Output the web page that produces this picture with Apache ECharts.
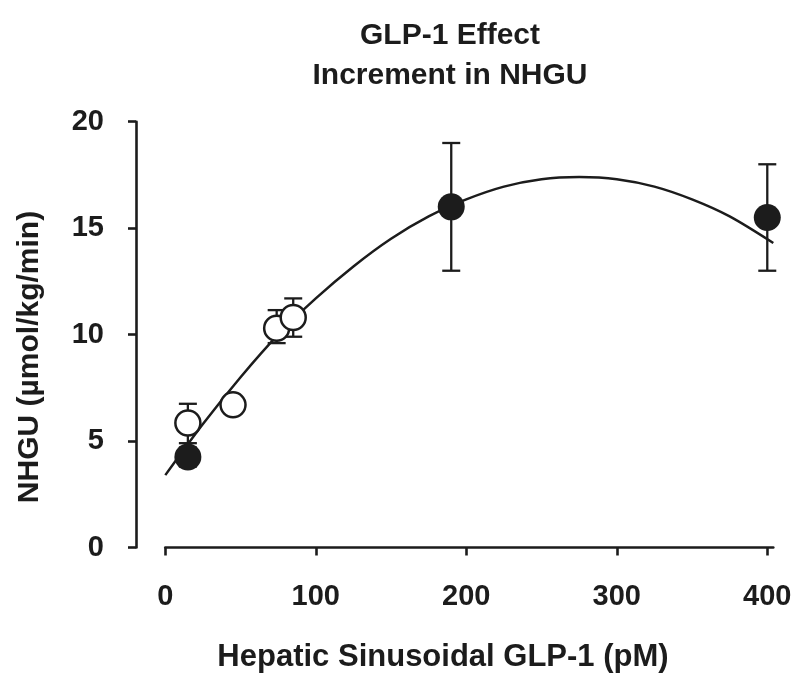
<!DOCTYPE html>
<html>
<head>
<meta charset="utf-8">
<script src="https://cdn.jsdelivr.net/npm/echarts@6/dist/echarts.min.js"></script>
<style>
  html, body { margin: 0; padding: 0; background: #fff; }
  #chart { width: 800px; height: 687px; }
</style>
</head>
<body>
<div id="chart"></div>
<script>
// ---- data ----
const titleLines = ['GLP-1 Effect', 'Increment in NHGU'];
const xAxisName = 'Hepatic Sinusoidal GLP-1 (pM)';
const yAxisName = 'NHGU (µmol/kg/min)';
const xTicks = [0, 100, 200, 300, 400];
const yTicks = [0, 5, 10, 15, 20];

// open circles
const openX = [15, 45, 74, 85];
const openY = [5.85, 6.7, 10.3, 10.8];
const openLow = [4.9, 6.3, 9.6, 9.9];
const openHigh = [6.75, 7.1, 11.15, 11.7];

// filled circles
const filledX = [15, 190, 400];
const filledY = [4.25, 16.0, 15.5];
const filledLow = [3.8, 13.0, 13.0];
const filledHigh = [4.7, 19.0, 18.0];

// fitted curve
const fitX = [0, 25, 50, 75, 100, 125, 150, 175, 200, 225, 250, 275, 300, 325, 350, 375, 404];
const fitY = [3.4, 5.8, 8.0, 10.0, 11.7, 13.2, 14.5, 15.55, 16.35, 16.95, 17.3, 17.4, 17.3, 16.95, 16.35, 15.55, 14.3];

// ---- build chart ----
const FONT = "'Liberation Sans', Arial, Helvetica, sans-serif";
const INK = '#1c1c1c';

const zip = (a, b) => a.map((v, i) => [v, b[i]]);
const errData = openX.map((x, i) => [x, openLow[i], openHigh[i]])
  .concat(filledX.map((x, i) => [x, filledLow[i], filledHigh[i]]));

const chart = echarts.init(document.getElementById('chart'), null, { renderer: 'canvas' });

chart.setOption({
  backgroundColor: '#fff',
  animation: false,
  grid: { left: 165.3, right: 26.7, top: 121.7, bottom: 139.5, containLabel: false },
  graphic: [
    { type: 'text', x: 450, y: 36, style: { text: titleLines[0], font: 'bold 30px ' + FONT, fill: INK, align: 'center', verticalAlign: 'middle' } },
    { type: 'text', x: 450, y: 76, style: { text: titleLines[1], font: 'bold 30px ' + FONT, fill: INK, align: 'center', verticalAlign: 'middle' } },
    { type: 'text', x: 443, y: 657, style: { text: xAxisName, font: 'bold 31px ' + FONT, fill: INK, align: 'center', verticalAlign: 'middle' } },
    { type: 'text', x: 30, y: 357, rotation: Math.PI / 2, style: { text: yAxisName, font: 'bold 30px ' + FONT, fill: INK, align: 'center', verticalAlign: 'middle' } }
  ],
  xAxis: {
    type: 'value', min: 0, max: 404, interval: 100,
    splitLine: { show: false },
    axisLine: { show: true, onZero: false, lineStyle: { color: INK, width: 2.6 } },
    axisTick: { show: true, inside: false, length: 8, customValues: xTicks, lineStyle: { color: INK, width: 2.6 } },
    axisLabel: { customValues: xTicks, margin: 35, color: INK, fontSize: 29, fontWeight: 'bold', fontFamily: FONT }
  },
  yAxis: {
    type: 'value', min: 0, max: 20, interval: 5, offset: 29.3,
    splitLine: { show: false },
    axisLine: { show: true, onZero: false, lineStyle: { color: INK, width: 2.6 } },
    axisTick: { show: true, inside: false, length: 8, customValues: yTicks, lineStyle: { color: INK, width: 2.6 } },
    axisLabel: { customValues: yTicks, margin: 32, color: INK, fontSize: 29, fontWeight: 'bold', fontFamily: FONT }
  },
  series: [
    {
      type: 'line', data: zip(fitX, fitY), smooth: 0.3, showSymbol: false, z: 1,
      lineStyle: { color: INK, width: 2.5 }
    },
    {
      type: 'custom', z: 2,
      data: errData,
      renderItem: function (params, api) {
        const x = api.value(0);
        const lo = api.coord([x, api.value(1)]);
        const hi = api.coord([x, api.value(2)]);
        const w = 9;
        const st = { stroke: INK, lineWidth: 2.3 };
        return {
          type: 'group',
          children: [
            { type: 'line', shape: { x1: lo[0], y1: lo[1], x2: hi[0], y2: hi[1] }, style: st },
            { type: 'line', shape: { x1: lo[0] - w, y1: lo[1], x2: lo[0] + w, y2: lo[1] }, style: st },
            { type: 'line', shape: { x1: hi[0] - w, y1: hi[1], x2: hi[0] + w, y2: hi[1] }, style: st }
          ]
        };
      }
    },
    {
      type: 'scatter', data: zip(openX, openY), symbol: 'circle', symbolSize: 25, z: 3,
      itemStyle: { color: '#fff', borderColor: INK, borderWidth: 2.5, opacity: 1 }
    },
    {
      type: 'scatter', data: zip(filledX, filledY), symbol: 'circle', symbolSize: 27, z: 3,
      itemStyle: { color: INK, opacity: 1 }
    }
  ]
});
</script>
</body>
</html>
